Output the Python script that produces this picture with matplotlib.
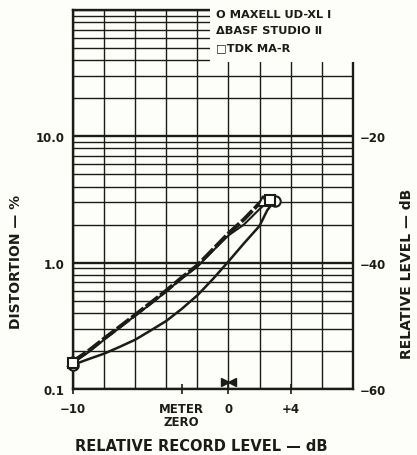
import matplotlib.pyplot as plt
from matplotlib.patches import Rectangle
from matplotlib.ticker import FixedLocator, NullLocator, NullFormatter

# relative record level (dB) vs. distortion (%)
maxell_x = [-10, -9, -8, -7, -6, -5, -4, -3, -2, -1, 0, 1, 2, 2.5, 3.0]
maxell_y = [0.155, 0.172, 0.19, 0.215, 0.245, 0.29, 0.345, 0.43, 0.55, 0.74, 1.02, 1.42, 1.95, 2.6, 3.1]

basf_x = [-10, -9, -8, -7, -6, -5, -4, -3, -2, -1, 0, 1, 2, 2.2]
basf_y = [0.165, 0.2, 0.25, 0.31, 0.385, 0.48, 0.6, 0.76, 0.95, 1.27, 1.7, 2.2, 2.95, 3.1]

tdk_x = [-10, -9, -8, -7, -6, -5, -4, -3, -2, -1, 0, 1, 2, 2.7]
tdk_y = [0.16, 0.195, 0.245, 0.305, 0.38, 0.47, 0.59, 0.75, 0.93, 1.24, 1.64, 2.0, 2.65, 3.15]

legend_labels = ["O MAXELL UD-XL \u2160", "\u0394BASF STUDIO \u2161", "\u25a1TDK MA-R"]

x_ticks = [-10, -3, 0, 4]
x_ticklabels = ["\u221210", "METER\nZERO", "0", "+4"]
y_ticks = [0.1, 1.0, 10.0]
y_ticklabels = ["0.1", "1.0", "10.0"]
db_ticklabels = ["\u221260", "\u221240", "\u221220"]

ink = "#1c1c16"
paper = "#fdfdf9"
plt.rcParams['font.family'] = ['DejaVu Sans']
plt.rcParams['font.weight'] = 'bold'

fig = plt.figure(figsize=(4.17, 4.56), dpi=100)
fig.patch.set_facecolor(paper)
ax = fig.add_axes([0.175, 0.145, 0.671, 0.831])
ax.set_facecolor(paper)

ax.set_yscale("log")
ax.set_xlim(-10, 8)
ax.set_ylim(0.1, 100)

# grid paper: 2 dB columns, log rows
for gx in range(-10, 9, 2):
    ax.axvline(gx, color=ink, lw=1.0, zorder=1)
for dec in [0.1, 1, 10]:
    for m in range(1, 10):
        ax.axhline(dec * m, color=ink, lw=1.7 if m == 1 else 1.0, zorder=1)
ax.axhline(100, color=ink, lw=1.7, zorder=1)

# curves
ax.plot(tdk_x, tdk_y, color=ink, lw=1.5, zorder=4, clip_on=False)
line_b, = ax.plot(basf_x, basf_y, color=ink, lw=2.8, zorder=4, clip_on=False)
line_b.set_dashes([4, 0.7])
ax.plot(maxell_x, maxell_y, color=ink, lw=1.8, zorder=4, clip_on=False)

mk = dict(color=ink, mfc="white", mew=1.5, ms=7.5, ls="none", zorder=5, clip_on=False)
ax.plot([maxell_x[0], maxell_x[-1]], [maxell_y[0], maxell_y[-1]], marker="o", **mk)
ax.plot([basf_x[0], basf_x[-1]], [basf_y[0], basf_y[-1]], marker="^", **mk)
ax.plot([tdk_x[0], tdk_x[-1]], [tdk_y[0], tdk_y[-1]], marker="s", **mk)

# the little "reference level" arrows at 0 dB
ax.plot([-0.22], [0.114], marker=">", color=ink, ms=5.5, ls="none", zorder=5)
ax.plot([0.22], [0.114], marker="<", color=ink, ms=5.5, ls="none", zorder=5)

# ticks and labels
ax.xaxis.set_major_locator(FixedLocator(x_ticks))
ax.set_xticklabels(x_ticklabels, fontsize=8.5, linespacing=0.95)
ax.tick_params(axis="x", direction="inout", length=7, width=1.2, color=ink, pad=6, labelcolor=ink)
ax.yaxis.set_major_locator(FixedLocator(y_ticks))
ax.yaxis.set_minor_locator(NullLocator())
ax.yaxis.set_minor_formatter(NullFormatter())
ax.set_yticklabels(y_ticklabels, fontsize=8.5)
ax.tick_params(axis="y", length=0, pad=6, labelcolor=ink)

ax2 = ax.twinx()
ax2.set_yscale("log")
ax2.set_ylim(0.1, 100)
ax2.yaxis.set_major_locator(FixedLocator(y_ticks))
ax2.yaxis.set_minor_locator(NullLocator())
ax2.yaxis.set_minor_formatter(NullFormatter())
ax2.set_yticklabels(db_ticklabels, fontsize=8.5)
ax2.tick_params(axis="y", length=0, pad=5, labelcolor=ink)
for s in ax2.spines.values():
    s.set_visible(False)

for s in ax.spines.values():
    s.set_color(ink)
    s.set_linewidth(1.7)
    s.set_zorder(2)

# legend sits on a blank patch of the paper
ax.add_patch(Rectangle((0.49, 0.863), 0.53, 0.15, transform=ax.transAxes,
                       facecolor=paper, edgecolor="none", zorder=3, clip_on=False))
for i, lab in enumerate(legend_labels):
    fig.text(216 / 417, 1 - (15 + 16.5 * i) / 456, lab, fontsize=8.2, color=ink,
             va="center", ha="left")

fig.text(201 / 417, 1 - 447 / 456, "RELATIVE RECORD LEVEL \u2014 dB", fontsize=10.5,
         color=ink, ha="center", va="center")
fig.text(16 / 417, 1 - 262 / 456, "DISTORTION \u2014 %", fontsize=10, color=ink,
         rotation=90, ha="center", va="center")
fig.text(407 / 417, 1 - 274 / 456, "RELATIVE LEVEL \u2014 dB", fontsize=10, color=ink,
         rotation=90, ha="center", va="center")

fig.savefig("out.png", dpi=100, facecolor=fig.get_facecolor())
